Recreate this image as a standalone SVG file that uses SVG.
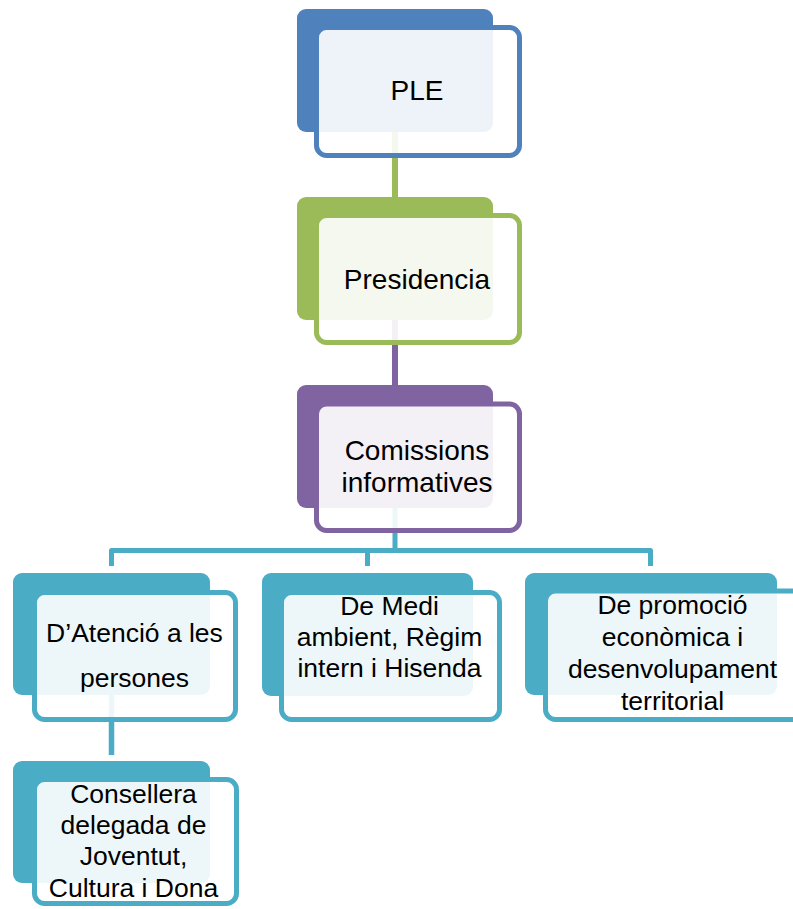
<svg xmlns="http://www.w3.org/2000/svg" width="793" height="909" viewBox="0 0 793 909">
<style>
.back{stroke:none}
.front{fill:#ffffff;fill-opacity:0.9;stroke-width:5}
.lbl{font-family:"Liberation Sans",Arial,sans-serif;fill:#000;text-anchor:middle}
.top{font-size:28px}
.low{font-size:26.5px}
.conn{fill:none;stroke-linejoin:round}
</style>
<rect width="793" height="909" fill="#ffffff"/>
<g id="connectors">
<line class="conn" x1="395" y1="130" x2="395" y2="199" stroke="#9BBB59" stroke-width="6"/>
<line class="conn" x1="395" y1="318" x2="395" y2="387" stroke="#8064A2" stroke-width="6"/>
<path class="conn" d="M395 506 V550.5 M111.5 566 V550.5 H650.5 V566 M367.5 550.5 V566" stroke="#4BACC6" stroke-width="5"/>
<line class="conn" x1="111.5" y1="693" x2="111.5" y2="755" stroke="#4BACC6" stroke-width="5.5"/>
</g>
<g id="ple">
<rect class="back" x="297" y="9" width="196" height="123" rx="9" fill="#4F81BD"/>
<rect class="front" x="316.5" y="27.5" width="203" height="128" rx="10" stroke="#4F81BD"/>
<text class="lbl top" x="417" y="100">PLE</text>
</g>
<g id="presidencia">
<rect class="back" x="297" y="197" width="196" height="123" rx="9" fill="#9BBB59"/>
<rect class="front" x="316.5" y="215.5" width="203" height="127" rx="10" stroke="#9BBB59"/>
<text class="lbl top" x="417" y="289">Presidencia</text>
</g>
<g id="comissions">
<rect class="back" x="297" y="385" width="196" height="123" rx="9" fill="#8064A2"/>
<rect class="front" x="316.5" y="404" width="203" height="126.5" rx="10" stroke="#8064A2"/>
<text class="lbl top" x="417" y="460">Comissions</text>
<text class="lbl top" x="417" y="492">informatives</text>
</g>
<g id="atencio">
<rect class="back" x="13" y="573" width="197" height="122" rx="9" fill="#4BACC6"/>
<rect class="front" x="34.5" y="592.5" width="201" height="127" rx="10" stroke="#4BACC6"/>
<text class="lbl low" x="134.5" y="642">D’Atenció a les</text>
<text class="lbl low" x="134.5" y="687">persones</text>
</g>
<g id="medi">
<rect class="back" x="262" y="573" width="211" height="123" rx="9" fill="#4BACC6"/>
<rect class="front" x="281.5" y="592.5" width="218" height="127" rx="10" stroke="#4BACC6"/>
<text class="lbl low" x="389.5" y="615">De Medi</text>
<text class="lbl low" x="389.5" y="646">ambient, Règim</text>
<text class="lbl low" x="389.5" y="677">intern i Hisenda</text>
</g>
<g id="promocio">
<rect class="back" x="525" y="573" width="252" height="122" rx="9" fill="#4BACC6"/>
<rect class="front" x="545.5" y="591" width="260" height="128.5" rx="10" stroke="#4BACC6"/>
<text class="lbl low" x="672.5" y="614">De promoció</text>
<text class="lbl low" x="672.5" y="646">econòmica i</text>
<text class="lbl low" x="672.5" y="678">desenvolupament</text>
<text class="lbl low" x="672.5" y="710">territorial</text>
</g>
<g id="consellera">
<rect class="back" x="13" y="761" width="197" height="122" rx="9" fill="#4BACC6"/>
<rect class="front" x="34.5" y="779.5" width="202" height="124" rx="10" stroke="#4BACC6"/>
<text class="lbl low" x="133.5" y="803">Consellera</text>
<text class="lbl low" x="133.5" y="834">delegada de</text>
<text class="lbl low" x="133.5" y="865">Joventut,</text>
<text class="lbl low" x="133.5" y="897">Cultura i Dona</text>
</g>
</svg>
